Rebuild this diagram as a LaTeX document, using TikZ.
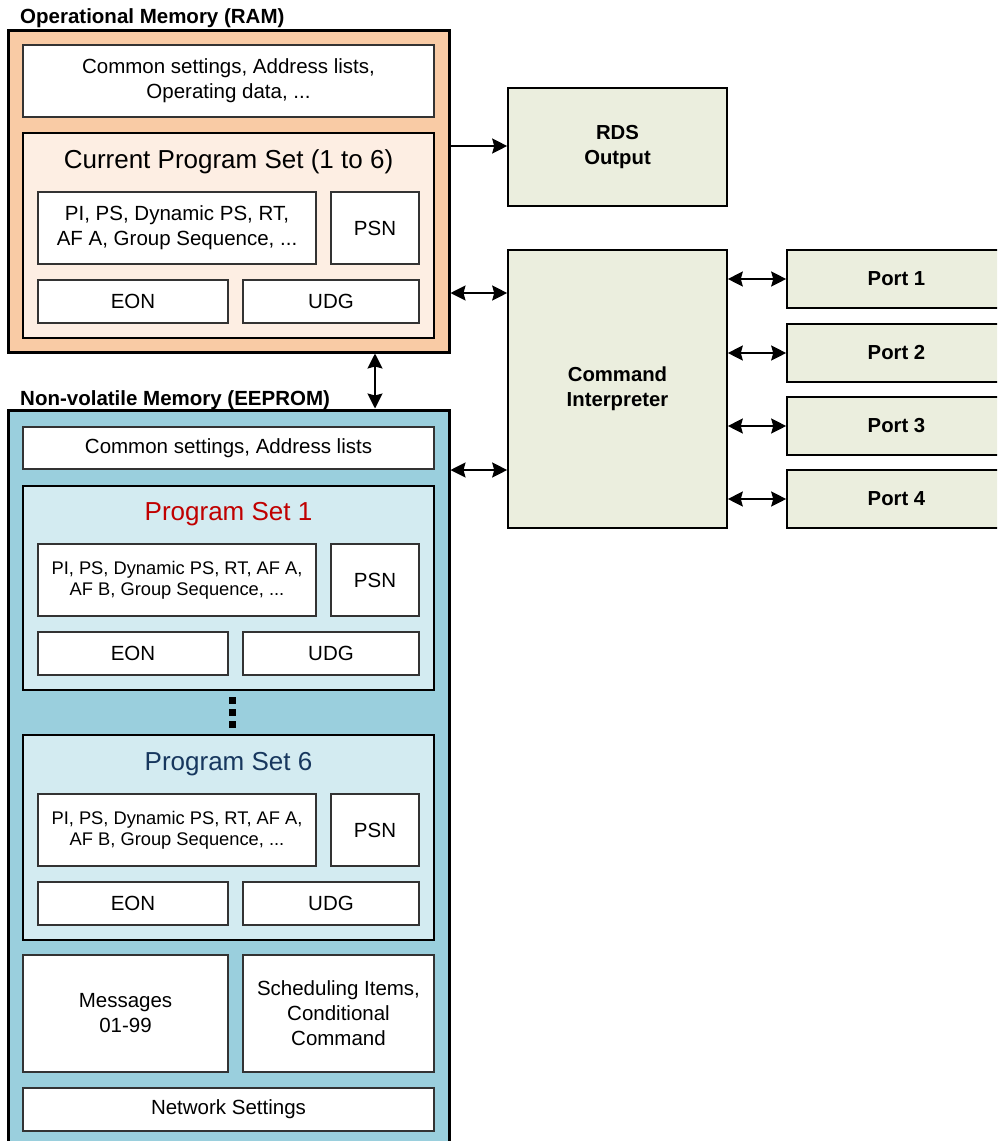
\documentclass[tikz,border=0pt]{standalone}
\usepackage{fontspec}
\setmainfont{Liberation Sans}
\usetikzlibrary{arrows.meta}
\definecolor{ramfill}{HTML}{F9CBA5}
\definecolor{ramin}{HTML}{FDEEE3}
\definecolor{eepfill}{HTML}{9ACFDD}
\definecolor{eepin}{HTML}{D3EBF1}
\definecolor{grn}{HTML}{EBEEDE}
\definecolor{psred}{HTML}{C00000}
\definecolor{psblue}{HTML}{17375E}
\tikzset{
  outerbox/.style={draw=black, line width=3pt, inner sep=0pt},
  setbox/.style={draw=black, line width=2pt, inner sep=0pt},
  box/.style={draw=black!80, line width=1.6pt, fill=white, inner sep=0pt, align=center, font=\fontsize{20.5}{25}\selectfont},
  smallbox/.style={box, font=\fontsize{18.3}{21}\selectfont},
  gbox/.style={draw=black, line width=1.6pt, fill=grn, inner sep=0pt, align=center, font=\fontsize{20.3}{25}\selectfont\bfseries},
  sectitle/.style={anchor=west, inner sep=0pt, font=\fontsize{20.5}{22}\selectfont\bfseries},
  settitle/.style={inner sep=0pt, font=\fontsize{26}{30}\selectfont},
  conn/.style={line width=1.8pt, {Stealth[length=15pt,width=15pt,inset=2pt]}-{Stealth[length=15pt,width=15pt,inset=2pt]}},
  conn1/.style={line width=1.8pt, -{Stealth[length=15pt,width=15pt,inset=2pt]}},
  dot/.style={fill=black, inner sep=0pt, minimum size=7pt}
}
\begin{document}
\begin{tikzpicture}[x=1pt,y=-1pt]
\clip (0,0) rectangle (997,1141);
\useasboundingbox (0,0) rectangle (997,1141);
% RAM
\node[sectitle] (ramt) at (20,18) {Operational Memory (RAM)};
\node[outerbox, fill=ramfill, minimum width=441, minimum height=322] (ram) at (228.5,191) {};
\node[box, minimum width=411, minimum height=72] (cs1) at (228.5,81) {Common settings, Address lists,\\Operating data, ...};
\node[setbox, fill=ramin, minimum width=411, minimum height=205] (cps) at (228.5,235.5) {};
\node[settitle] (cpst) at (228.5,162) {Current Program Set (1 to 6)};
\node[box, minimum width=278, minimum height=72] (pi1) at (177,228) {PI, PS, Dynamic PS, RT,\\AF A, Group Sequence, ...};
\node[box, minimum width=88, minimum height=72] (psn1) at (375,228) {PSN};
\node[box, minimum width=190, minimum height=43] (eon1) at (133,301.5) {EON};
\node[box, minimum width=176, minimum height=43] (udg1) at (331,301.5) {UDG};
% EEPROM
\node[sectitle] (eept) at (20,400) {Non-volatile Memory (EEPROM)};
\node[outerbox, fill=eepfill, minimum width=441, minimum height=740] (eep) at (228.5,780) {};
\node[box, minimum width=411, minimum height=42] (cs2) at (228.5,448) {Common settings, Address lists};
% Program set 1
\node[setbox, fill=eepin, minimum width=411, minimum height=204] (ps1) at (228.5,588) {};
\node[settitle, text=psred] (ps1t) at (228.5,514) {Program Set 1};
\node[smallbox, minimum width=278, minimum height=72] (pi2) at (177,580) {PI, PS, Dynamic PS, RT, AF A,\\AF B, Group Sequence, ...};
\node[box, minimum width=88, minimum height=72] (psn2) at (375,580) {PSN};
\node[box, minimum width=190, minimum height=43] (eon2) at (133,653.5) {EON};
\node[box, minimum width=176, minimum height=43] (udg2) at (331,653.5) {UDG};
% dots
\node[dot] (d1) at (232,700) {};
\node[dot] (d2) at (232,712) {};
\node[dot] (d3) at (232,724) {};
% Program set 6
\node[setbox, fill=eepin, minimum width=411, minimum height=205] (ps6) at (228.5,837.5) {};
\node[settitle, text=psblue] (ps6t) at (228.5,764) {Program Set 6};
\node[smallbox, minimum width=278, minimum height=72] (pi3) at (177,830) {PI, PS, Dynamic PS, RT, AF A,\\AF B, Group Sequence, ...};
\node[box, minimum width=88, minimum height=72] (psn3) at (375,830) {PSN};
\node[box, minimum width=190, minimum height=43] (eon3) at (133,903.5) {EON};
\node[box, minimum width=176, minimum height=43] (udg3) at (331,903.5) {UDG};
% bottom
\node[box, minimum width=205, minimum height=117] (msg) at (125.5,1013.5) {Messages\\01-99};
\node[box, minimum width=191, minimum height=117] (sch) at (338.5,1013.5) {Scheduling Items,\\Conditional\\Command};
\node[box, minimum width=411, minimum height=43] (net) at (228.5,1109.5) {Network Settings};
% right side
\node[gbox, minimum width=219, minimum height=118] (rds) at (617.5,147) {RDS\\Output};
\node[gbox, minimum width=219, minimum height=278] (ci) at (617.5,389) {Command\\Interpreter};
\node[gbox, minimum width=219, minimum height=58] (p1) at (896.5,279) {Port 1};
\node[gbox, minimum width=219, minimum height=58] (p2) at (896.5,353) {Port 2};
\node[gbox, minimum width=219, minimum height=58] (p3) at (896.5,426) {Port 3};
\node[gbox, minimum width=219, minimum height=58] (p4) at (896.5,499) {Port 4};
% connectors
\draw[conn1] (ram.east |- 0,146) -- (rds.west |- 0,146);
\draw[conn] (ram.east |- 0,293) -- (ci.west |- 0,293);
\draw[conn] (eep.east |- 0,470) -- (ci.west |- 0,470);
\draw[conn] (ram.south -| psn1.center) -- (eep.north -| psn1.center);
\draw[conn] (ci.east |- p1.west) -- (p1.west);
\draw[conn] (ci.east |- p2.west) -- (p2.west);
\draw[conn] (ci.east |- p3.west) -- (p3.west);
\draw[conn] (ci.east |- p4.west) -- (p4.west);
\end{tikzpicture}
\end{document}
